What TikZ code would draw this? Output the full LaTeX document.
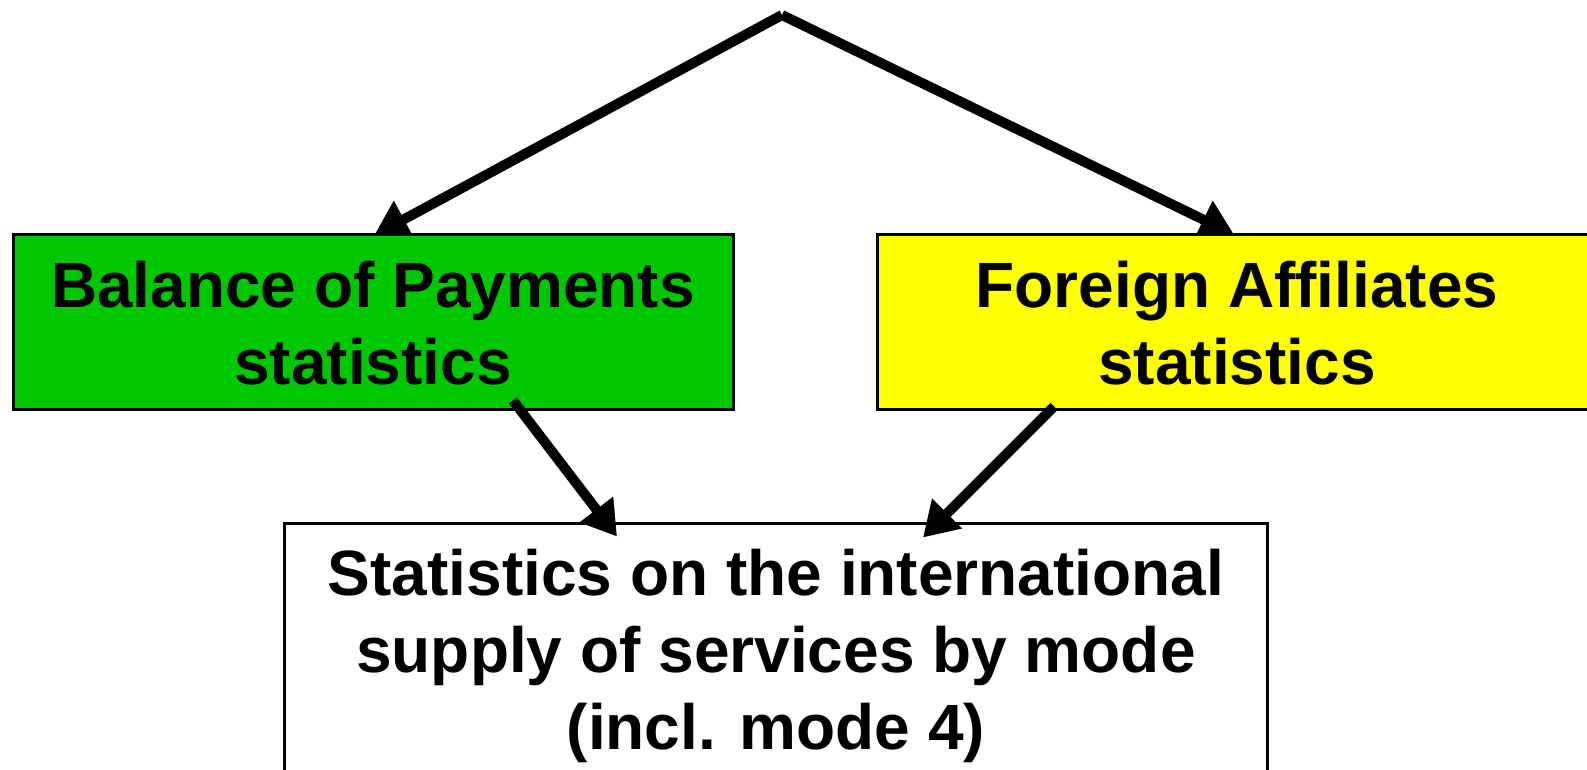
\documentclass[tikz,border=0pt]{standalone}
\usepackage{fontspec}
\setmainfont{Liberation Sans}
\usetikzlibrary{arrows.meta,calc}
\pgfdeclarelayer{bg}
\pgfsetlayers{bg,main}
\definecolor{boxgreen}{RGB}{0,200,0}
\definecolor{boxyellow}{RGB}{255,255,0}
\tikzset{
  box/.style={draw=black, line width=3pt, inner sep=0pt, rectangle},
  lbl/.style={font=\fontsize{64}{77}\selectfont\bfseries, align=center, inner sep=0pt, anchor=base},
  conn/.style={line width=10pt, -{Triangle[length=34pt,width=40pt]}},
}
\begin{document}
\begin{tikzpicture}[x=1pt,y=-1pt]
\useasboundingbox (0,0) rectangle (1587,769);
% boxes
\node[box, fill=boxgreen, minimum width=720pt, minimum height=175pt] (bop) at (373,321.5) {};
\node[box, fill=boxyellow, minimum width=720pt, minimum height=175pt] (fas) at (1237,321.5) {};
\node[box, fill=white, minimum width=983pt, minimum height=277pt] (sis) at (775.5,661.5) {};
% texts (base anchor = baseline of last line)
\node[lbl] (bopt) at (373,384) {Balance of Payments\\statistics};
\node[lbl] (fast) at (1237,384) {Foreign Affiliates\\statistics};
\node[lbl] (sist) at (776,749) {Statistics on the international\\supply of services by mode\\(incl. mode 4)};
% top connectors (behind boxes)
\coordinate (apex) at (782,15);
\begin{pgfonlayer}{bg}
\draw[conn] (apex) -- ($(bop.north)+(1,3)$);
\draw[conn] (apex) -- ($(fas.north)+(-3,2)$);
\end{pgfonlayer}
% bottom connectors
\draw[conn] ($(bop.south)+(140,-10)$) -- ($(sis.north)+(-158.5,15)$);
\draw[conn] ($(fas.south)+(-183,-4)$) -- ($(sis.north)+(147.5,16)$);
\end{tikzpicture}
\end{document}
